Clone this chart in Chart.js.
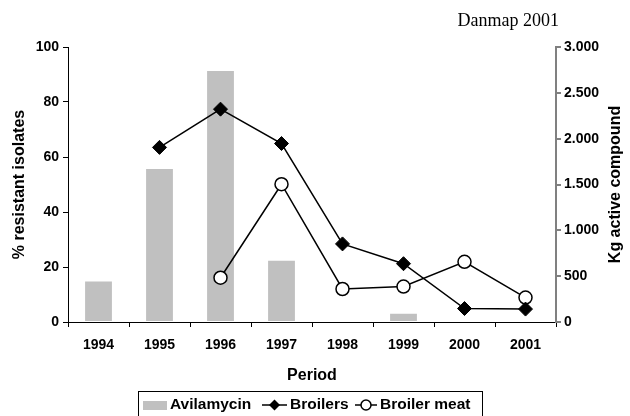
<!DOCTYPE html>
<html><head><meta charset="utf-8">
<script src="https://cdn.jsdelivr.net/npm/chart.js@4/dist/chart.umd.min.js"></script>
<style>html,body{margin:0;padding:0;background:#fff;}canvas{display:block;}</style>
</head><body>
<canvas id="c" width="630" height="416"></canvas>
<script>
const categories = ['1994','1995','1996','1997','1998','1999','2000','2001'];
const avilamycinKg = [441, 1669, 2739, 667, 0, 90, 0, 0];
const broilersPct = [null, 63.5, 77.4, 64.9, 28.4, 21.2, 4.9, 4.7];
const broilerMeatPct = [null, null, 16.1, 50.1, 12.0, 12.9, 21.9, 8.9];
const leftTickLabels = ['0','20','40','60','80','100'];
const rightTickLabels = ['0','500','1.000','1.500','2.000','2.500','3.000'];
const seriesLabels = ['Avilamycin','Broilers','Broiler meat'];
const axisTitles = {x: 'Period', y: '% resistant isolates', y2: 'Kg active compound'};
const cornerNote = 'Danmap 2001';

const SANS = "'Liberation Sans', Arial, sans-serif";
const BAR_GREY = '#c0c0c0';

const extras = {
  id: 'extras',
  afterDraw(chart) {
    const ctx = chart.ctx;
    const area = chart.chartArea;
    ctx.save();
    // corner note
    ctx.font = "18px 'Liberation Serif', 'Times New Roman', serif";
    ctx.fillStyle = '#000';
    ctx.textAlign = 'right';
    ctx.textBaseline = 'middle';
    ctx.fillText(cornerNote, 559, 21);

    // right axis title, reading bottom-to-top
    ctx.save();
    ctx.translate(616, (area.top + area.bottom) / 2);
    ctx.rotate(-Math.PI / 2);
    ctx.font = 'bold 16px ' + SANS;
    ctx.textAlign = 'center';
    ctx.textBaseline = 'middle';
    ctx.fillText(axisTitles.y2, 0, 0);
    ctx.restore();

    // legend
    const ds = chart.data.datasets;
    ctx.font = 'bold 15.5px ' + SANS;
    ctx.textAlign = 'left';
    ctx.textBaseline = 'middle';
    const ly = 405;
    ctx.fillStyle = ds[0].backgroundColor;
    ctx.fillRect(143, 401, 24, 9);
    ctx.fillStyle = '#000';
    ctx.fillText(ds[0].label, 170, ly);
    ctx.strokeStyle = '#000';
    ctx.lineWidth = 1.5;
    ctx.beginPath(); ctx.moveTo(262, ly); ctx.lineTo(287, ly); ctx.stroke();
    const dx = 274.5;
    ctx.beginPath();
    ctx.moveTo(dx, ly - 5.5); ctx.lineTo(dx + 5.5, ly); ctx.lineTo(dx, ly + 5.5); ctx.lineTo(dx - 5.5, ly); ctx.closePath();
    ctx.fill();
    ctx.fillText(ds[1].label, 290, ly);
    ctx.beginPath(); ctx.moveTo(355, ly); ctx.lineTo(377, ly); ctx.stroke();
    ctx.beginPath(); ctx.arc(366, ly, 5, 0, Math.PI * 2);
    ctx.fillStyle = '#fff'; ctx.fill(); ctx.stroke();
    ctx.fillStyle = '#000';
    ctx.fillText(ds[2].label, 380, ly);
    ctx.lineWidth = 1;
    ctx.strokeRect(138.5, 391.5, 344, 40);
    ctx.restore();
  }
};

new Chart(document.getElementById('c'), {
  type: 'bar',
  data: {
    labels: categories,
    datasets: [
      {
        type: 'bar', label: seriesLabels[0], data: avilamycinKg, yAxisID: 'y2',
        backgroundColor: BAR_GREY, borderWidth: 0,
        categoryPercentage: 1, barPercentage: 0.44, order: 3
      },
      {
        type: 'line', label: seriesLabels[1], data: broilersPct, yAxisID: 'y',
        borderColor: '#000', borderWidth: 1.5, backgroundColor: '#000',
        pointStyle: 'rectRot', pointRadius: 7, pointBackgroundColor: '#000',
        pointBorderColor: '#000', pointBorderWidth: 1, tension: 0, order: 1
      },
      {
        type: 'line', label: seriesLabels[2], data: broilerMeatPct, yAxisID: 'y',
        borderColor: '#000', borderWidth: 1.5, backgroundColor: '#fff',
        pointStyle: 'circle', pointRadius: 6.5, pointBackgroundColor: '#fff',
        pointBorderColor: '#000', pointBorderWidth: 1.5, tension: 0, order: 2
      }
    ]
  },
  options: {
    responsive: false,
    animation: false,
    devicePixelRatio: 1,
    layout: {padding: {left: 10, right: 6, top: 47, bottom: 31}},
    plugins: {legend: {display: false}, tooltip: {enabled: false}, title: {display: false}},
    scales: {
      x: {
        offset: true,
        grid: {offset: true, drawOnChartArea: false, drawTicks: true, tickLength: 5, color: '#000', tickColor: '#000'},
        border: {display: true, color: '#000', width: 1},
        ticks: {color: '#000', font: {family: SANS, size: 14, weight: 'bold'}, padding: 10, maxRotation: 0, autoSkip: false},
        title: {display: true, text: axisTitles.x, color: '#000', font: {family: SANS, size: 16, weight: 'bold'}, padding: 0},
        afterFit(s) { s.height = 63; }
      },
      y: {
        position: 'left', min: 0, max: 100,
        grid: {drawOnChartArea: false, drawTicks: true, tickLength: 5, color: '#000', tickColor: '#000'},
        border: {display: true, color: '#000', width: 1},
        ticks: {stepSize: 20, color: '#000', padding: 4, font: {family: SANS, size: 14, weight: 'bold'},
          callback: (v, i) => leftTickLabels[i]},
        title: {display: true, text: axisTitles.y, color: '#000', font: {family: SANS, size: 16, weight: 'bold'}, padding: 0},
        afterFit(s) { s.width = 58; }
      },
      y2: {
        position: 'right', min: 0, max: 3000,
        grid: {drawOnChartArea: false, drawTicks: true, tickLength: 5, color: '#808080', tickColor: '#808080', lineWidth: 2},
        border: {display: true, color: '#808080', width: 2},
        ticks: {stepSize: 500, color: '#000', padding: 3, font: {family: SANS, size: 14, weight: 'bold'},
          callback: (v, i) => rightTickLabels[i]},
        title: {display: false},
        afterFit(s) { s.width = 68; }
      }
    }
  },
  plugins: [extras]
});
</script>
</body></html>
